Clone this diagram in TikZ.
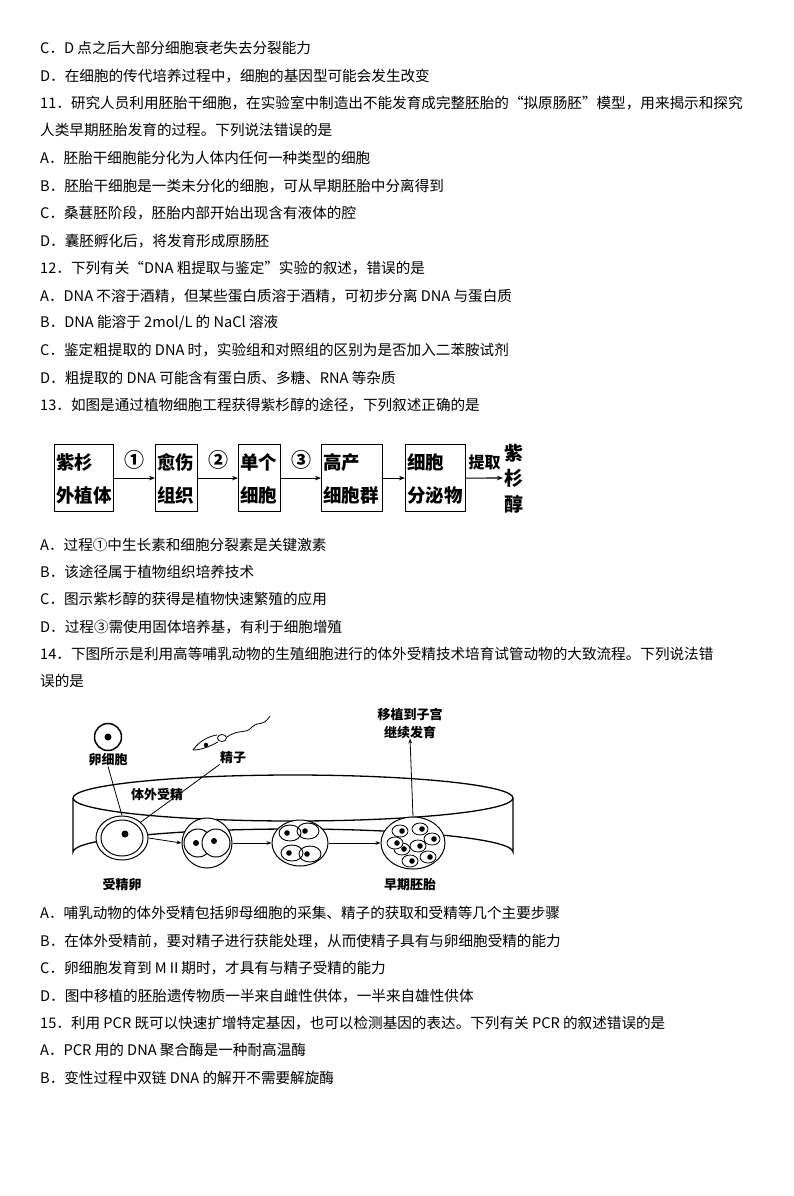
\documentclass[tikz,border=0pt]{standalone}
\usepackage{fontspec}
\setmainfont{Noto Sans CJK SC}
\usetikzlibrary{arrows.meta,shapes.geometric}
\begin{document}
\begin{tikzpicture}[x=1pt,y=-1pt,
  txt/.style={anchor=west,inner sep=0pt,font=\fontsize{14.6}{16}\selectfont},
  fbox/.style={draw,line width=1.2pt,minimum height=67pt,anchor=north west,inner sep=0pt},
  ftxt/.style={anchor=west,inner sep=0pt,font=\fontsize{18.5}{20}\selectfont\bfseries},
  lab/.style={inner sep=0pt,font=\fontsize{13}{14}\selectfont\bfseries},
  arr/.style={-{Stealth[length=6pt]},line width=1.1pt},
  thin/.style={line width=0.8pt}]
\useasboundingbox (0,0) rectangle (794,1196);
\node[txt] (l1) at (40,48) {C．D 点之后大部分细胞衰老失去分裂能力};
\node[txt] (l2) at (40,76) {D．在细胞的传代培养过程中，细胞的基因型可能会发生改变};
\node[txt] (l3) at (40,103) {11．研究人员利用胚胎干细胞，在实验室中制造出不能发育成完整胚胎的“拟原肠胚”模型，用来揭示和探究};
\node[txt] (l4) at (40,130) {人类早期胚胎发育的过程。下列说法错误的是};
\node[txt] (l5) at (40,158) {A．胚胎干细胞能分化为人体内任何一种类型的细胞};
\node[txt] (l6) at (40,186) {B．胚胎干细胞是一类未分化的细胞，可从早期胚胎中分离得到};
\node[txt] (l7) at (40,213) {C．桑葚胚阶段，胚胎内部开始出现含有液体的腔};
\node[txt] (l8) at (40,241) {D．囊胚孵化后，将发育形成原肠胚};
\node[txt] (l9) at (40,268) {12．下列有关“DNA 粗提取与鉴定”实验的叙述，错误的是};
\node[txt] (l10) at (40,296) {A．DNA 不溶于酒精，但某些蛋白质溶于酒精，可初步分离 DNA 与蛋白质};
\node[txt] (l11) at (40,323) {B．DNA 能溶于 2mol/L 的 NaCl 溶液};
\node[txt] (l12) at (40,350) {C．鉴定粗提取的 DNA 时，实验组和对照组的区别为是否加入二苯胺试剂};
\node[txt] (l13) at (40,378) {D．粗提取的 DNA 可能含有蛋白质、多糖、RNA 等杂质};
\node[txt] (l14) at (40,405) {13．如图是通过植物细胞工程获得紫杉醇的途径，下列叙述正确的是};
% flowchart
\node[fbox,minimum width=59pt] (b1) at (54,444) {};
\node[fbox,minimum width=42pt] (b2) at (155,444) {};
\node[fbox,minimum width=42pt] (b3) at (238,444) {};
\node[fbox,minimum width=61pt] (b4) at (321,444) {};
\node[fbox,minimum width=60pt] (b5) at (405,444) {};
\foreach \b/\a/\c in {b1/紫杉/外植体,b2/愈伤/组织,b3/单个/细胞,b4/高产/细胞群,b5/细胞/分泌物}{
  \node[ftxt] (\b t1) at ([xshift=2pt,yshift=16pt]\b.west) {\a};
  \node[ftxt] (\b t2) at ([xshift=2pt,yshift=-17pt]\b.west) {\c};
}
\node[lab,font=\fontsize{19}{20}\selectfont\bfseries] (r1) at (514,453) {紫};
\node[lab,font=\fontsize{19}{20}\selectfont\bfseries] (r2) at (514,478) {杉};
\node[lab,font=\fontsize{19}{20}\selectfont\bfseries] (r3) at (514,504) {醇};
\coordinate (pend) at (503,478);
\draw[arr] (b1.east) -- (b2.west) node[midway,above=5pt,font=\fontsize{20}{20}\selectfont\bfseries] {①};
\draw[arr] (b2.east) -- (b3.west) node[midway,above=5pt,font=\fontsize{20}{20}\selectfont\bfseries] {②};
\draw[arr] (b3.east) -- (b4.west) node[midway,above=5pt,font=\fontsize{20}{20}\selectfont\bfseries] {③};
\draw[arr] (b4.east) -- (b5.west);
\draw[arr] (b5.east) -- (pend) node[midway,above=4pt,font=\fontsize{16}{17}\selectfont\bfseries] {提取};
\node[txt] (l15) at (40,545) {A．过程①中生长素和细胞分裂素是关键激素};
\node[txt] (l16) at (40,572) {B．该途径属于植物组织培养技术};
\node[txt] (l17) at (40,599) {C．图示紫杉醇的获得是植物快速繁殖的应用};
\node[txt] (l18) at (40,627) {D．过程③需使用固体培养基，有利于细胞增殖};
\node[txt] (l19) at (40,654) {14．下图所示是利用高等哺乳动物的生殖细胞进行的体外受精技术培育试管动物的大致流程。下列说法错};
\node[txt] (l20) at (40,681) {误的是};
% dish
\draw[line width=1.3pt] (293,798) ellipse [x radius=220,y radius=23];
\draw[line width=1.3pt] (73,798) -- (73,852) arc[start angle=180,end angle=360,x radius=220,y radius=23] -- (513,798);
% egg
\node[draw,circle,line width=1.5pt,minimum size=27pt,inner sep=0pt] (egg) at (108,737) {};
\fill (egg) circle (3.5pt);
% sperm
\node[draw,ellipse,minimum width=9pt,minimum height=7pt,inner sep=0pt,thin] (sph) at (222,738) {};
\draw[thin] (193,750) .. controls (200,740) and (210,736) .. (217,735);
\draw[thin] (193,750) .. controls (203,750) and (212,745) .. (218,742);
\fill (206,745) circle (2.2pt);
\draw[thin] (227,737) .. controls (240,728) and (245,735) .. (252,727) .. controls (260,720) and (262,728) .. (270,716);
% cells
\node[draw,ellipse,line width=1pt,fill=white,minimum width=52pt,minimum height=44pt,inner sep=0pt] (zyg) at (122,838) {};
\draw[line width=1pt] (122,838) ellipse [x radius=21,y radius=18];
\fill (125,834) circle (3.5pt);
\node[draw,circle,line width=1pt,fill=white,minimum size=50pt,inner sep=0pt] (c2) at (207,843) {};
\draw[line width=1pt] (198,843) circle (14pt);
\draw[line width=1pt,fill=white] (216,843) circle (14pt);
\fill (196,843) circle (3pt); \fill (214,841) circle (3pt);
\node[draw,ellipse,line width=1pt,fill=white,minimum width=56pt,minimum height=46pt,inner sep=0pt] (c4) at (300,843) {};
\foreach \x/\y in {290/833,308/831,292/853,310/854}{\draw[line width=0.9pt] (\x,\y) ellipse [x radius=11,y radius=8]; \fill (\x-3,\y) circle (2.8pt);}
\node[draw,ellipse,line width=1pt,fill=white,minimum width=64pt,minimum height=52pt,inner sep=0pt] (emb) at (413,843) {};
\foreach \x/\y in {400/831,420/829,402/849,418/846,428/857,410/861,395/843,432/839}{\draw[line width=0.8pt,fill=white] (\x,\y) ellipse [x radius=8,y radius=6]; \fill (\x+2,\y) circle (2.8pt);}
% labels
\node[lab] (le) at (108,760) {卵细胞};
\node[lab] (ls) at (233,758) {精子};
\node[lab] (lt) at (157,795) {体外受精};
\node[lab] (lm1) at (410,715) {移植到子宫};
\node[lab] (lm2) at (410,732) {继续发育};
\node[lab] (lz) at (122,885) {受精卵};
\node[lab] (lem) at (410,885) {早期胚胎};
\draw[thin] (le.south) -- (zyg.north);
\draw[thin] (ls.south west) -- (zyg.north east);
\draw[-{Stealth[length=5pt]},thin] (emb.north) -- (lm2.south);
\draw[-{Stealth[length=5pt]},thin] (zyg.east) -- (c2.west);
\draw[-{Stealth[length=5pt]},thin] (c2.east) -- (c4.west);
\draw[-{Stealth[length=5pt]},thin] (c4.east) -- (emb.west);
\node[txt] (l21) at (40,913) {A．哺乳动物的体外受精包括卵母细胞的采集、精子的获取和受精等几个主要步骤};
\node[txt] (l22) at (40,941) {B．在体外受精前，要对精子进行获能处理，从而使精子具有与卵细胞受精的能力};
\node[txt] (l23) at (40,968) {C．卵细胞发育到 MⅡ期时，才具有与精子受精的能力};
\node[txt] (l24) at (40,996) {D．图中移植的胚胎遗传物质一半来自雌性供体，一半来自雄性供体};
\node[txt] (l25) at (40,1023) {15．利用 PCR 既可以快速扩增特定基因，也可以检测基因的表达。下列有关 PCR 的叙述错误的是};
\node[txt] (l26) at (40,1050) {A．PCR 用的 DNA 聚合酶是一种耐高温酶};
\node[txt] (l27) at (40,1078) {B．变性过程中双链 DNA 的解开不需要解旋酶};
\end{tikzpicture}
\end{document}
